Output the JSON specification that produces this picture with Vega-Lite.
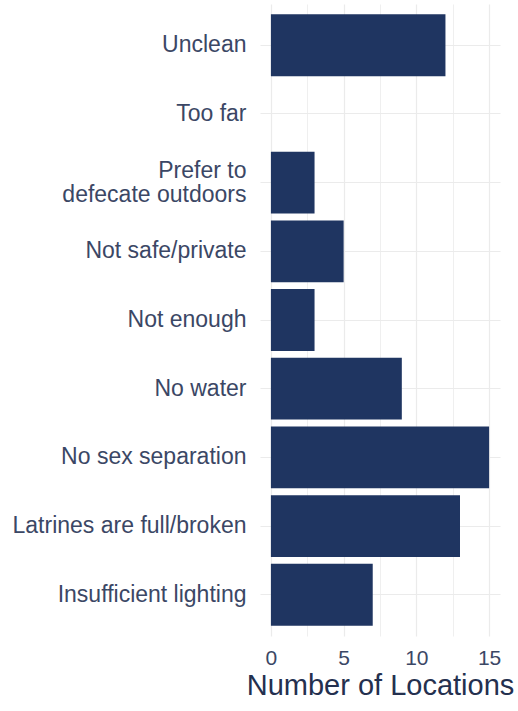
{
  "$schema": "https://vega.github.io/schema/vega-lite/v6.json",
  "autosize": "none",
  "width": 240,
  "height": 632,
  "padding": {"left": 260, "top": 4, "right": 18, "bottom": 75},
  "background": "white",
  "config": {
    "view": {"stroke": null},
    "font": "Liberation Sans"
  },
  "data": {
    "values": [
      {"reason": "Unclean", "count": 12},
      {"reason": "Too far", "count": 0},
      {"reason": "Prefer to defecate outdoors", "count": 3},
      {"reason": "Not safe/private", "count": 5},
      {"reason": "Not enough", "count": 3},
      {"reason": "No water", "count": 9},
      {"reason": "No sex separation", "count": 15},
      {"reason": "Latrines are full/broken", "count": 13},
      {"reason": "Insufficient lighting", "count": 7}
    ]
  },
  "mark": {"type": "bar", "color": "#1f3561"},
  "encoding": {
    "y": {
      "field": "reason",
      "type": "nominal",
      "sort": null,
      "scale": {"paddingInner": 0.1, "paddingOuter": 0.15},
      "axis": {
        "title": null,
        "domain": false,
        "ticks": false,
        "bandPosition": 0.5,
        "grid": true,
        "gridColor": "#ebebeb",
        "gridWidth": 1.2,
        "labelFontSize": 23,
        "labelColor": "#3b4765",
        "labelPadding": 14,
        "labelLimit": 300,
        "labelExpr": "datum.value == 'Prefer to defecate outdoors' ? ['Prefer to', 'defecate outdoors'] : datum.label",
        "labelLineHeight": 24,
        "labelOffset": {"condition": {"test": "datum.value == 'Prefer to defecate outdoors'", "value": -12}, "value": 0}
      }
    },
    "x": {
      "field": "count",
      "type": "quantitative",
      "scale": {"domain": [-0.75, 15.75], "nice": false, "zero": false},
      "axis": {
        "title": "Number of Locations",
        "titleFontSize": 29,
        "titleFontWeight": "normal",
        "titleColor": "#24304f",
        "titlePadding": 3,
        "domain": false,
        "ticks": false,
        "values": [0, 2.5, 5, 7.5, 10, 12.5, 15],
        "labelExpr": "datum.value % 5 == 0 ? datum.label : ''",
        "labelFontSize": 21,
        "labelColor": "#3b4765",
        "labelPadding": 11,
        "grid": true,
        "gridColor": "#ebebeb",
        "gridWidth": {"condition": {"test": "datum.value % 5 == 0", "value": 1.2}, "value": 0.8}
      }
    }
  }
}
